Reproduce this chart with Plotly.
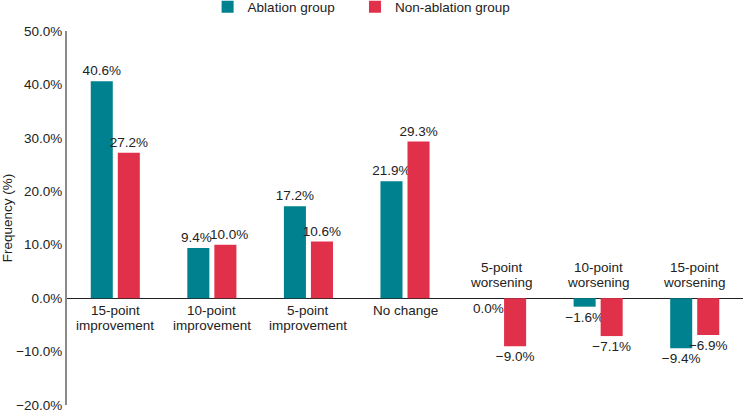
import plotly.graph_objects as go

categories = ["15-point<br>improvement", "10-point<br>improvement", "5-point<br>improvement",
              "No change", "5-point<br>worsening", "10-point<br>worsening", "15-point<br>worsening"]
ablation = [40.6, 9.4, 17.2, 21.9, 0.0, -1.6, -9.4]
non_ablation = [27.2, 10.0, 10.6, 29.3, -9.0, -7.1, -6.9]
tick_vals = [-20, -10, 0, 10, 20, 30, 40, 50]

TEAL = "#00818F"
RED = "#E0304A"
FONT = "Liberation Sans, Arial, sans-serif"
FS = 13.5
NB = "\u00a0"


def fmt(v):
    s = f"{abs(v):.1f}%"
    return ("\u2212" + s) if v < 0 else s


# value labels; nudge apart the pairs whose bars have almost the same height
abl_text, non_text = [], []
for a, n in zip(ablation, non_ablation):
    ta = fmt(a) if a != 0 else ""
    tn = fmt(n) if n != 0 else ""
    if a > 0 and n > 0 and abs(a - n) < 1.5:
        ta = ta + NB
        tn = NB * 2 + tn
    abl_text.append(ta)
    non_text.append(tn)

fig = go.Figure()
for i, (name, vals, txt, col, lg) in enumerate([
        ("Ablation group", ablation, abl_text, TEAL, "legend"),
        ("Non-ablation group", non_ablation, non_text, RED, "legend2")]):
    fig.add_trace(go.Bar(
        x=categories, y=vals, name=name, marker_color=col, marker_line_width=0,
        text=txt, textposition="outside", legend=lg, showlegend=True,
        constraintext="none", cliponaxis=False,
        textfont=dict(size=FS, color="#222", family=FONT),
    ))
    # zero-valued bars: label sits just below the baseline
    for c, v in zip(categories, vals):
        if v == 0:
            fig.add_annotation(x=c, y=v, text=fmt(v), showarrow=False, yanchor="top",
                               yshift=-1, xshift=-13.5 if i == 0 else 13.5,
                               font=dict(size=FS, color="#222", family=FONT))

# category labels: below the baseline for gains, above it for losses
for c, a, n in zip(categories, ablation, non_ablation):
    neg = max(a, n) <= 0
    lines = c.split("<br>")
    for j, line in enumerate(lines):
        if neg:
            ys = 6 + 15 * (len(lines) - 1 - j)
        else:
            ys = -3 - 15 * j
        fig.add_annotation(x=c, y=0, text=line, showarrow=False,
                           yanchor="bottom" if neg else "top", yshift=ys,
                           font=dict(size=FS, color="#222", family=FONT))

legend_common = dict(orientation="h", xanchor="left", y=1.064, yanchor="middle",
                     font=dict(size=FS), itemwidth=30, bgcolor="rgba(0,0,0,0)")

fig.update_layout(
    width=745, height=417, showlegend=True,
    margin=dict(l=67, r=2, t=31, b=12, autoexpand=False),
    paper_bgcolor="white", plot_bgcolor="white",
    font=dict(family=FONT, size=FS, color="#222"),
    barmode="group", bargap=0.44, bargroupgap=0.185,
    legend=dict(x=0.208, **legend_common),
    legend2=dict(x=0.426, **legend_common),
    xaxis=dict(showticklabels=False, showline=False, ticks="", showgrid=False, zeroline=False),
    yaxis=dict(range=[-20, 50], tickvals=tick_vals,
               ticktext=[fmt(v) for v in tick_vals], automargin=False,
               showgrid=False, zeroline=True, zerolinecolor="#222", zerolinewidth=1,
               showline=True, linecolor="#8a8a8a", linewidth=2, ticks="",
               title=dict(text="Frequency (%)", standoff=6, font=dict(size=FS)),
               tickfont=dict(size=FS)),
)

fig.write_html("out.html", config={"displayModeBar": False},
               post_script="document.body.style.margin='0';")
